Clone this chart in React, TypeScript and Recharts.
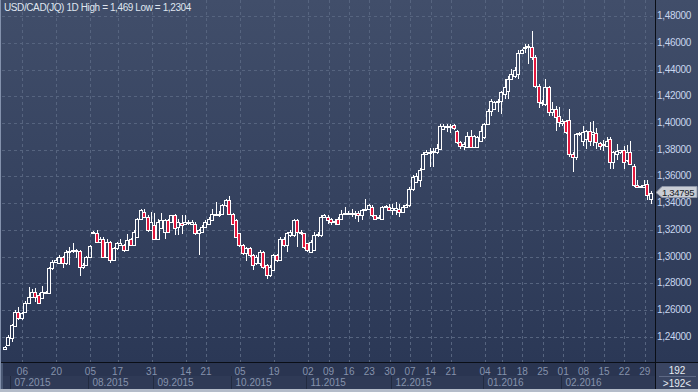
import React from 'react';
import { ComposedChart, Bar, XAxis, YAxis, CartesianGrid, ReferenceDot } from 'recharts';

// USD/CAD daily candles, 07.2015 – 02.2016 (192 bars on the source chart)
const opens = [
    1.2310, 1.2342, 1.2392, 1.2485, 1.2590, 1.2540, 1.2585, 1.2655, 1.2701, 1.2739,
    1.2714, 1.2690, 1.2739, 1.2727, 1.2913, 1.2962, 1.2950, 1.2995, 1.2950, 1.3037,
    1.3040, 1.3050, 1.3042, 1.2920, 1.2938, 1.3000, 1.3180, 1.3174, 1.3111, 1.3136,
    1.2999, 1.3111, 1.2975, 1.3062, 1.3090, 1.3086, 1.3049, 1.3129, 1.3086, 1.3149,
    1.3285, 1.3335, 1.3298, 1.3198, 1.3235, 1.3136, 1.3211, 1.3186, 1.3273, 1.3260,
    1.3310, 1.3223, 1.3250, 1.3248, 1.3260, 1.3248, 1.3248, 1.3174, 1.3186, 1.3223,
    1.3248, 1.3273, 1.3322, 1.3310, 1.3322, 1.3384,
    1.3422, 1.3322, 1.3273, 1.3174,
    1.3086, 1.3025, 1.3062, 1.3012, 1.2950, 1.2950, 1.3037, 1.2937, 1.2863, 1.2900,
    1.3012, 1.2975, 1.3136, 1.3086, 1.3161, 1.3161, 1.3273, 1.3186, 1.3174, 1.3099,
    1.3037, 1.3049, 1.3161, 1.3161, 1.3298, 1.3298, 1.3280, 1.3265, 1.3285, 1.3285,
    1.3322, 1.3330, 1.3330, 1.3320, 1.3330, 1.3310, 1.3347, 1.3360, 1.3372, 1.3310,
    1.3290, 1.3285, 1.3372, 1.3372, 1.3350, 1.3347, 1.3355, 1.3335, 1.3372, 1.3385,
    1.3509, 1.3560, 1.3571, 1.3657, 1.3769, 1.3775, 1.3790, 1.3780, 1.3807, 1.3955,
    1.3975, 1.3978, 1.3985, 1.3943, 1.3856, 1.3830, 1.3820, 1.3906, 1.3820, 1.3820,
    1.3869, 1.3893, 1.3993, 1.4092, 1.4105, 1.4155, 1.4161, 1.4217, 1.4241, 1.4328,
    1.4353, 1.4366, 1.4527, 1.4565, 1.4570, 1.4569, 1.4490, 1.4279, 1.4154, 1.4142,
    1.4271, 1.4080, 1.4105, 1.4055, 1.3998, 1.4018, 1.4025, 1.3770, 1.3745, 1.3918,
    1.3869, 1.3880, 1.3943, 1.3915, 1.3925, 1.3850, 1.3835, 1.3830, 1.3881, 1.3707,
    1.3770, 1.3785, 1.3795, 1.3720, 1.3782, 1.3682, 1.3540, 1.3525, 1.3525, 1.3541, 1.3430,
];

const highs = [
    1.2335, 1.2416, 1.2495, 1.2600, 1.2627, 1.2590, 1.2665, 1.2776, 1.2760, 1.2764,
    1.2725, 1.2781, 1.2745, 1.2920, 1.2975, 1.2990, 1.3010, 1.3005, 1.3050, 1.3074,
    1.3104, 1.3060, 1.3050, 1.2950, 1.3005, 1.3090, 1.3195, 1.3199, 1.3150, 1.3145,
    1.3130, 1.3120, 1.3070, 1.3110, 1.3130, 1.3095, 1.3170, 1.3140, 1.3200, 1.3290,
    1.3360, 1.3360, 1.3310, 1.3335, 1.3330, 1.3280, 1.3330, 1.3280, 1.3280, 1.3315,
    1.3318, 1.3280, 1.3310, 1.3310, 1.3275, 1.3275, 1.3260, 1.3205, 1.3240, 1.3275,
    1.3300, 1.3360, 1.3409, 1.3340, 1.3395, 1.3435,
    1.3455, 1.3330, 1.3280, 1.3180,
    1.3095, 1.3070, 1.3075, 1.3020, 1.3010, 1.3050, 1.3045, 1.2945, 1.2940, 1.3020,
    1.3020, 1.3150, 1.3145, 1.3185, 1.3200, 1.3285, 1.3285, 1.3200, 1.3180, 1.3105,
    1.3125, 1.3186, 1.3186, 1.3310, 1.3320, 1.3310, 1.3290, 1.3285, 1.3300, 1.3347,
    1.3372, 1.3340, 1.3360, 1.3340, 1.3340, 1.3355, 1.3434, 1.3395, 1.3385, 1.3315,
    1.3310, 1.3380, 1.3390, 1.3397, 1.3397, 1.3409, 1.3397, 1.3385, 1.3395, 1.3520,
    1.3610, 1.3625, 1.3660, 1.3780, 1.3795, 1.3810, 1.3810, 1.3844, 1.3993, 1.3993,
    1.3990, 1.3993, 1.3993, 1.3950, 1.3865, 1.3855, 1.3930, 1.3950, 1.3910, 1.3900,
    1.3980, 1.4000, 1.4105, 1.4180, 1.4165, 1.4180, 1.4240, 1.4328, 1.4353, 1.4403,
    1.4420, 1.4549, 1.4555, 1.4594, 1.4594, 1.4690, 1.4510, 1.4290, 1.4170, 1.4328,
    1.4280, 1.4155, 1.4130, 1.4120, 1.4030, 1.4025, 1.4105, 1.3780, 1.3925, 1.3935,
    1.3980, 1.3950, 1.4005, 1.4018, 1.3965, 1.3860, 1.3870, 1.3893, 1.3893, 1.3790,
    1.3844, 1.3800, 1.3830, 1.3832, 1.3869, 1.3690, 1.3574, 1.3540, 1.3574, 1.3574, 1.3490,
];

const lows = [
    1.2304, 1.2330, 1.2362, 1.2478, 1.2528, 1.2530, 1.2580, 1.2645, 1.2695, 1.2664,
    1.2645, 1.2680, 1.2720, 1.2720, 1.2900, 1.2955, 1.2945, 1.2913, 1.2940, 1.2938,
    1.3030, 1.2990, 1.2858, 1.2910, 1.2930, 1.2995, 1.3175, 1.3105, 1.3100, 1.2990,
    1.2990, 1.2950, 1.2965, 1.3050, 1.3080, 1.3035, 1.3040, 1.3080, 1.3080, 1.3140,
    1.3280, 1.3290, 1.3185, 1.3190, 1.3125, 1.3125, 1.3205, 1.3136, 1.3175, 1.3250,
    1.3161, 1.3161, 1.3173, 1.3240, 1.3240, 1.3240, 1.3165, 1.3012, 1.3180, 1.3215,
    1.3240, 1.3265, 1.3305, 1.3300, 1.3315, 1.3375,
    1.3315, 1.3240, 1.3140, 1.3075,
    1.3010, 1.2969, 1.3000, 1.2900, 1.2940, 1.2930, 1.2910, 1.2831, 1.2850, 1.2890,
    1.2960, 1.2965, 1.3075, 1.3037, 1.3150, 1.3150, 1.3074, 1.3165, 1.3060, 1.3037,
    1.3025, 1.3040, 1.3150, 1.3150, 1.3290, 1.3248, 1.3236, 1.3236, 1.3240, 1.3280,
    1.3315, 1.3318, 1.3298, 1.3285, 1.3260, 1.3273, 1.3340, 1.3355, 1.3300, 1.3275,
    1.3280, 1.3280, 1.3365, 1.3340, 1.3310, 1.3310, 1.3298, 1.3325, 1.3365, 1.3375,
    1.3490, 1.3550, 1.3521, 1.3645, 1.3760, 1.3670, 1.3670, 1.3770, 1.3800, 1.3945,
    1.3936, 1.3925, 1.3950, 1.3845, 1.3807, 1.3797, 1.3810, 1.3810, 1.3810, 1.3815,
    1.3860, 1.3880, 1.3985, 1.4055, 1.4100, 1.4080, 1.4067, 1.4180, 1.4180, 1.4320,
    1.4340, 1.4328, 1.4520, 1.4520, 1.4440, 1.4470, 1.4260, 1.4112, 1.4130, 1.4130,
    1.4055, 1.4055, 1.3943, 1.3968, 1.3975, 1.3920, 1.3744, 1.3633, 1.3720, 1.3905,
    1.3831, 1.3806, 1.3831, 1.3831, 1.3806, 1.3800, 1.3790, 1.3820, 1.3658, 1.3658,
    1.3720, 1.3770, 1.3658, 1.3710, 1.3685, 1.3520, 1.3515, 1.3515, 1.3520, 1.3422, 1.3397,
];

const closes = [
    1.2325, 1.2403, 1.2491, 1.2590, 1.2540, 1.2578, 1.2652, 1.2701, 1.2739, 1.2701,
    1.2652, 1.2739, 1.2727, 1.2913, 1.2962, 1.2975, 1.2995, 1.2950, 1.3037, 1.3044,
    1.3052, 1.3045, 1.2920, 1.2938, 1.3000, 1.3081, 1.3186, 1.3111, 1.3129, 1.2999,
    1.3111, 1.2975, 1.3062, 1.3099, 1.3105, 1.3049, 1.3124, 1.3086, 1.3186, 1.3285,
    1.3347, 1.3298, 1.3198, 1.3260, 1.3136, 1.3260, 1.3273, 1.3273, 1.3186, 1.3310,
    1.3211, 1.3260, 1.3240, 1.3260, 1.3255, 1.3262, 1.3174, 1.3198, 1.3223, 1.3260,
    1.3285, 1.3322, 1.3315, 1.3322, 1.3384, 1.3422,
    1.3322, 1.3248, 1.3149, 1.3086,
    1.3025, 1.3062, 1.3012, 1.2937, 1.3000, 1.3037, 1.2925, 1.2863, 1.2925, 1.3012,
    1.2975, 1.3136, 1.3086, 1.3174, 1.3186, 1.3273, 1.3186, 1.3174, 1.3074, 1.3049,
    1.3111, 1.3161, 1.3170, 1.3298, 1.3310, 1.3273, 1.3260, 1.3270, 1.3248, 1.3322,
    1.3330, 1.3325, 1.3322, 1.3330, 1.3310, 1.3347, 1.3360, 1.3385, 1.3310, 1.3285,
    1.3300, 1.3372, 1.3380, 1.3347, 1.3362, 1.3365, 1.3335, 1.3372, 1.3390, 1.3509,
    1.3596, 1.3605, 1.3645, 1.3769, 1.3785, 1.3785, 1.3780, 1.3815, 1.3980, 1.3980,
    1.3980, 1.3968, 1.3962, 1.3856, 1.3830, 1.3845, 1.3906, 1.3820, 1.3906, 1.3893,
    1.3943, 1.3993, 1.4092, 1.4167, 1.4155, 1.4167, 1.4229, 1.4266, 1.4328, 1.4366,
    1.4400, 1.4527, 1.4545, 1.4570, 1.4575, 1.4490, 1.4279, 1.4154, 1.4148, 1.4271,
    1.4080, 1.4105, 1.4043, 1.4005, 1.4018, 1.3931, 1.3770, 1.3745, 1.3918, 1.3925,
    1.3931, 1.3943, 1.3869, 1.3935, 1.3856, 1.3830, 1.3845, 1.3869, 1.3707, 1.3782,
    1.3790, 1.3795, 1.3707, 1.3782, 1.3695, 1.3533, 1.3525, 1.3530, 1.3540, 1.3459, 1.34795,
];

// bar index each date label sits on
const dayTickIdx = [5, 15, 25, 33, 43, 53, 59, 69, 79, 89, 95, 101, 107, 113, 119, 125, 131, 141, 146, 152, 158, 164, 170, 176, 182, 188];
const dayTickLabels = ['06', '20', '05', '17', '31', '14', '21', '05', '19', '02', '09', '16', '23', '30', '07', '14', '21', '04', '11', '18', '25', '01', '08', '15', '22', '29'];

const monthTickIdx = [2, 25, 44, 67, 89, 114, 141, 164];
const monthLabels = ['07.2015', '08.2015', '09.2015', '10.2015', '11.2015', '12.2015', '01.2016', '02.2016'];

const priceTicks = [1.24, 1.26, 1.28, 1.30, 1.32, 1.34, 1.36, 1.38, 1.40, 1.42, 1.44, 1.46, 1.48];

const W = 698;
const H = 392;
const Y_AXIS_W = 43;
const DAY_ROW_H = 13;
const MONTH_ROW_H = 16;
const PLOT_RIGHT = W - Y_AXIS_W;
const PLOT_BOTTOM = H - DAY_ROW_H - MONTH_ROW_H;
const FONT = '"Liberation Sans", Arial, sans-serif';
const BEAR = '#e3173d';
const LABEL = '#8592ac';

const data = opens.map((open, i) => ({
    i,
    open,
    high: highs[i],
    low: lows[i],
    close: closes[i],
    range: [lows[i], highs[i]],
}));

const lastIdx = data.length - 1;
const lastClose = closes[lastIdx];

const fmt = (v: number, d: number) => v.toFixed(d).replace('.', ',');

function Candle(props: any) {
    const { x, y, width, height, payload } = props;
    if (x == null || !payload) return null;
    const top = Math.min(y, y + height);
    const h = Math.abs(height);
    const span = payload.high - payload.low || 1e-9;
    const k = h / span;
    const p = Math.floor(x + width / 2);
    const up = payload.close >= payload.open;
    const bTop = Math.round(top + (payload.high - Math.max(payload.open, payload.close)) * k);
    const bBot = Math.max(bTop + 1, Math.round(top + (payload.high - Math.min(payload.open, payload.close)) * k));
    const wTop = Math.round(top);
    const wBot = Math.round(top + h);
    return (
        <g>
            {wTop < bTop && <line x1={p + 0.5} x2={p + 0.5} y1={wTop} y2={bTop} stroke="#fff" />}
            {wBot > bBot && <line x1={p + 0.5} x2={p + 0.5} y1={bBot + 1} y2={wBot} stroke="#fff" />}
            <rect x={p - 1.5} y={bTop + 0.5} width={3} height={bBot - bTop} fill={up ? 'none' : BEAR} stroke="#fff" strokeWidth={1} />
        </g>
    );
}

const DayTick = ({ x, y, payload }: any) => {
    const k = dayTickIdx.indexOf(payload.value);
    return (
        <text x={x} y={y + 12} textAnchor="middle" fill={LABEL} fontSize={10} fontFamily={FONT}>
            {dayTickLabels[k]}
        </text>
    );
};

const MonthTick = ({ x, y, payload }: any) => {
    const k = monthTickIdx.indexOf(payload.value);
    const sx = Math.round(x) - 1.5;
    return (
        <g>
            <line x1={sx} x2={sx} y1={y} y2={y + 13} stroke="#222b40" />
            <text x={sx + 4} y={y + 10} fill={LABEL} fontSize={10} fontFamily={FONT}>
                {monthLabels[k]}
            </text>
        </g>
    );
};

const PriceTick = ({ x, y, payload }: any) => (
    <text x={x + 2} y={y} dy={3} fill="#c8d6ee" fontSize={10} letterSpacing={-0.3} fontFamily={FONT}>
        {fmt(payload.value, 5)}
    </text>
);

const PriceTag = ({ cy }: any) => {
    if (cy == null) return null;
    const y = Math.round(cy) - 0.5;
    const l = PLOT_RIGHT + 1;
    return (
        <g>
            <polygon
                points={`${l},${y} ${l + 6},${y - 6} ${W - 1},${y - 6} ${W - 1},${y + 5} ${l + 6},${y + 5}`}
                fill="#c9cdd5"
                stroke="#8e96a8"
            />
            <text x={l + 6} y={y + 3} fill="#151a26" fontSize={9.5} letterSpacing={-0.3} fontFamily={FONT}>
                {fmt(lastClose, 5)}
            </text>
        </g>
    );
};

// snap grid lines to whole pixels so the dashes stay crisp
const gridX = ({ xAxis, offset }: any) =>
    dayTickIdx.map((v) => {
        const px = xAxis && typeof xAxis.scale === 'function'
            ? xAxis.scale(v)
            : offset.left + ((v + 1) / (data.length + 1)) * offset.width;
        return Math.round(px) + 0.5;
    });

const gridY = ({ yAxis, offset }: any) =>
    priceTicks.map((v) => {
        const py = yAxis && typeof yAxis.scale === 'function'
            ? yAxis.scale(v)
            : offset.top + ((1.492 - v) / (1.492 - 1.2205)) * offset.height;
        return Math.round(py) + 0.5;
    });

export default function App() {
    return (
        <div style={{ position: 'absolute', left: 0, top: 0, width: W, height: H, overflow: 'hidden' }}>
            <svg width={W} height={H} style={{ position: 'absolute', left: 0, top: 0 }}>
                <defs>
                    <linearGradient id="bg" x1="0" y1="0" x2="0" y2="1">
                        <stop offset="0%" stopColor="#414e6a" />
                        <stop offset="100%" stopColor="#2b3856" />
                    </linearGradient>
                </defs>
                <rect x={0} y={0} width={W} height={PLOT_BOTTOM} fill="url(#bg)" />
                <rect x={0} y={PLOT_BOTTOM} width={W} height={H - PLOT_BOTTOM} fill="#2a3551" />
                <rect x={0} y={PLOT_BOTTOM + DAY_ROW_H} width={W} height={MONTH_ROW_H - 3} fill="#2f3a56" />
            </svg>

            <div style={{ position: 'absolute', left: 0, top: 0 }}>
                <ComposedChart width={W} height={H} data={data} margin={{ top: 0, right: 0, bottom: 0, left: 2 }}>
                    <CartesianGrid
                        stroke="#56647f"
                        strokeDasharray="3 3"
                        verticalCoordinatesGenerator={gridX}
                        horizontalCoordinatesGenerator={gridY}
                    />
                    <XAxis
                        type="number"
                        dataKey="i"
                        domain={[-1, data.length]}
                        allowDataOverflow
                        ticks={dayTickIdx}
                        interval={0}
                        height={DAY_ROW_H}
                        tickSize={0}
                        tickMargin={0}
                        axisLine={false}
                        tick={<DayTick />}
                    />
                    <XAxis
                        xAxisId="m"
                        type="number"
                        dataKey="i"
                        domain={[-1, data.length]}
                        allowDataOverflow
                        ticks={monthTickIdx}
                        interval={0}
                        height={MONTH_ROW_H}
                        tickSize={0}
                        tickMargin={0}
                        axisLine={false}
                        tick={<MonthTick />}
                    />
                    <YAxis
                        orientation="right"
                        domain={[1.2205, 1.492]}
                        allowDataOverflow
                        ticks={priceTicks}
                        interval={0}
                        width={Y_AXIS_W}
                        tickSize={0}
                        tickMargin={0}
                        axisLine={false}
                        tick={<PriceTick />}
                    />
                    <Bar dataKey="range" barSize={3} isAnimationActive={false} shape={(p: any) => <Candle {...p} />} />
                    <ReferenceDot x={lastIdx} y={lastClose} r={0} ifOverflow="visible" shape={(p: any) => <PriceTag {...p} />} />
                </ComposedChart>
            </div>

            <svg width={W} height={H} style={{ position: 'absolute', left: 0, top: 0, pointerEvents: 'none' }}>
                <text x={4} y={11} fill="#dfe5ef" fontSize={10} letterSpacing={-0.4} fontFamily={FONT}>
                    USD/CAD(JQ) 1D High = 1,469 Low = 1,2304
                </text>
                <line x1={0} x2={W} y1={PLOT_BOTTOM - 0.5} y2={PLOT_BOTTOM - 0.5} stroke="#0a0e16" />
                <line x1={PLOT_RIGHT + 0.5} x2={PLOT_RIGHT + 0.5} y1={0} y2={H} stroke="#0a0e16" />
                <rect x={PLOT_RIGHT + 1} y={PLOT_BOTTOM} width={W - PLOT_RIGHT - 1} height={H - PLOT_BOTTOM - 3} fill="#3a4562" />
                <text x={677} y={374} textAnchor="middle" fill="#e6ebf3" fontSize={10} fontFamily={FONT}>192</text>
                <line x1={659} x2={696} y1={376.5} y2={376.5} stroke="#5e6985" />
                <text x={677} y={387} textAnchor="middle" fill="#e6ebf3" fontSize={10} fontFamily={FONT}>&gt;192&lt;</text>
                <rect x={0} y={0} width={1} height={H} fill="#8492ad" />
                <rect x={1} y={PLOT_BOTTOM} width={2} height={H - PLOT_BOTTOM} fill="#4a5874" />
                <rect x={0} y={H - 3} width={W} height={3} fill="#b4bcc9" />
            </svg>
        </div>
    );
}
